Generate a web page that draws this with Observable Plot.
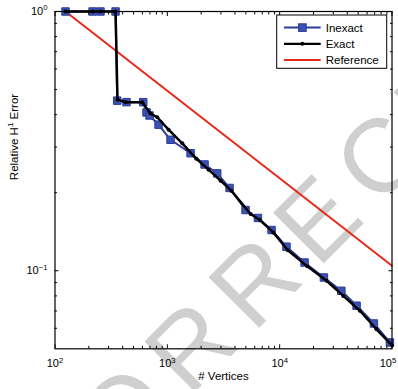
<!DOCTYPE html>
<html><head><meta charset="utf-8">
<script src="https://cdn.jsdelivr.net/npm/d3@7"></script>
<script src="https://cdn.jsdelivr.net/npm/@observablehq/plot@0.6"></script>
<style>html,body{margin:0;padding:0;background:#fff} svg{display:block}</style>
</head><body><div id="chart"></div>
<script>
// ---- data ----
const inexactN = [124, 216, 254, 346, 358, 433, 610, 653, 694, 835, 1068, 1610, 2145, 2780, 3580, 4970, 6400, 8470, 11500, 16660, 24760, 35400, 48400, 69000, 95800];
const inexactErr = [1, 1, 1, 1, 0.453, 0.447, 0.447, 0.408, 0.397, 0.366, 0.320, 0.284, 0.257, 0.2375, 0.2086, 0.1715, 0.1598, 0.1436, 0.1238, 0.1076, 0.0942, 0.0837, 0.0733, 0.0626, 0.0529];
const exactN = [124, 216, 254, 346, 360, 425, 598, 708, 813, 1025, 1358, 1808, 2327, 2977, 3710, 5510, 6670, 8770, 11830, 17620, 26180, 36830, 51760, 72450, 100000];
const exactErr = [1, 1, 1, 1, 0.457, 0.447, 0.447, 0.404, 0.391, 0.350, 0.310, 0.2706, 0.2454, 0.2226, 0.2037, 0.1655, 0.157, 0.1406, 0.120, 0.104, 0.0915, 0.080, 0.0701, 0.0596, 0.0515];
const refN = [124, 100000];
const refErr = [1, 0.1046];
const seriesNames = ["Inexact", "Exact", "Reference"];
const xMajor = [1e2, 1e3, 1e4, 1e5];
const xMinor = [200,300,400,500,600,700,800,900,2000,3000,4000,5000,6000,7000,8000,9000,20000,30000,40000,50000,60000,70000,80000,90000];
const yMajor = [0.1, 1];
const yMinor = [0.06,0.07,0.08,0.09,0.2,0.3,0.4,0.5,0.6,0.7,0.8,0.9];
const xLabel = "# Vertices";
const yLabel = "Relative H^1 Error";
const watermarkText = "CORRECTED";

// ---- style ----
const FONT = "'Liberation Sans', Arial, Helvetica, sans-serif";
const BLUE_FILL = "#3c52b4", BLUE_STROKE = "#2b3b9c", BLACK = "#000", RED = "#e8281c";
const W = 398, H = 389, ML = 54.5, MR = 6.5, MT = 11, MB = 40.7;

const inexact = inexactN.map((n, i) => ({n, e: inexactErr[i]}));
const exact = exactN.map((n, i) => ({n, e: exactErr[i]}));
const ref = refN.map((n, i) => ({n, e: refErr[i]}));

const fmtPow = d => "10^" + String(Math.round(Math.log10(d))).replace("-", "\u2212");

function watermark() {
  return d3.create("svg:text")
    .attr("transform", "translate(56,531) rotate(-45)")
    .attr("text-anchor", "start")
    .attr("font-family", FONT).attr("font-size", 104).attr("letter-spacing", 16)
    .attr("fill", "#cfcfcf").text(watermarkText).node();
}

function legend() {
  const g = d3.create("svg:g").attr("font-family", FONT).attr("font-size", 11.5).attr("text-anchor", "start");
  g.append("rect").attr("x", 276.7).attr("y", 15).attr("width", 110).attr("height", 53.3)
    .attr("fill", "#fff").attr("stroke", "#000").attr("stroke-width", 1);
  const colors = [BLUE_STROKE, BLACK, RED];
  seriesNames.forEach((name, i) => {
    const y = 27.6 + i * 16.2;
    g.append("line").attr("x1", 284).attr("x2", 320.7).attr("y1", y).attr("y2", y)
      .attr("stroke", colors[i]).attr("stroke-width", i === 1 ? 2.2 : 2);
    if (i === 0) g.append("rect").attr("x", 302.4 - 3.8).attr("y", y - 3.8).attr("width", 7.6).attr("height", 7.6)
      .attr("fill", BLUE_FILL).attr("stroke", BLUE_STROKE).attr("stroke-width", 1);
    if (i === 1) g.append("circle").attr("cx", 302.4).attr("cy", y).attr("r", 2).attr("fill", BLACK);
    g.append("text").attr("x", 325.7).attr("y", y).attr("dy", "0.36em").attr("fill", "#000").text(name);
  });
  return g.node();
}

const plot = Plot.plot({
  width: W, height: H,
  marginLeft: ML, marginRight: MR, marginTop: MT, marginBottom: MB,
  style: {fontFamily: FONT, fontSize: "11px", background: "#fff", color: "#000", overflow: "visible"},
  x: {type: "log", domain: [1e2, 1e5], axis: null},
  y: {type: "log", domain: [0.05, 1], axis: null},
  marks: [
    watermark,
    Plot.line(ref, {x: "n", y: "e", stroke: RED, strokeWidth: 2}),
    Plot.line(inexact, {x: "n", y: "e", stroke: BLUE_STROKE, strokeWidth: 2}),
    Plot.dot(inexact, {x: "n", y: "e", symbol: "square", r: 4.2, fill: BLUE_FILL, stroke: BLUE_STROKE, strokeWidth: 1}),
    Plot.line(exact, {x: "n", y: "e", stroke: BLACK, strokeWidth: 2.5}),
    Plot.dot(exact, {x: "n", y: "e", r: 2, fill: BLACK}),
    Plot.frame({stroke: "#000", strokeWidth: 1.2}),
    Plot.axisX({anchor: "bottom", ticks: xMajor, tickSize: -4, fill: "none", label: null}),
    Plot.axisX({anchor: "top", ticks: xMajor, tickSize: -4, fill: "none", label: null}),
    Plot.axisX({anchor: "bottom", ticks: xMinor, tickSize: -2.5, fill: "none", label: null}),
    Plot.axisX({anchor: "top", ticks: xMinor, tickSize: -2.5, fill: "none", label: null}),
    Plot.axisY({anchor: "left", ticks: yMajor, tickSize: -4, fill: "none", label: null}),
    Plot.axisY({anchor: "right", ticks: yMajor, tickSize: -4, fill: "none", label: null}),
    Plot.axisY({anchor: "left", ticks: yMinor, tickSize: -2.5, fill: "none", label: null}),
    Plot.axisY({anchor: "right", ticks: yMinor, tickSize: -2.5, fill: "none", label: null}),
    Plot.text(xMajor.slice(0, -1), {x: d => d, frameAnchor: "bottom", dy: 18.5, text: fmtPow, fontSize: 11, fill: "#000"}),
    Plot.text(xMajor.slice(-1), {x: d => d, frameAnchor: "bottom", dy: 18.5, dx: -4, text: fmtPow, fontSize: 11, fill: "#000"}),
    Plot.text(yMajor, {y: d => d, frameAnchor: "left", dx: -7.5, textAnchor: "end", text: fmtPow, fontSize: 11, fill: "#000"}),
    Plot.text([xLabel], {frameAnchor: "bottom", dy: 31, text: d => d, fontSize: 11.5, fill: "#000"}),
    Plot.text([yLabel], {frameAnchor: "left", dx: -41, rotate: -90, text: d => d, fontSize: 11.5, fill: "#000"}),
    legend
  ]
});

// superscripts
d3.select(plot).selectAll("text").each(function() {
  const s = this.textContent;
  const m = s.match(/^(.*?)\^(\S+)(.*)$/);
  if (!m) return;
  const t = d3.select(this);
  t.text(null);
  t.append("tspan").text(m[1]);
  t.append("tspan").attr("dy", "-0.62em").attr("font-size", "0.7em").text(m[2]);
  if (m[3]) t.append("tspan").attr("dy", "0.434em").text(m[3]);
});

document.getElementById("chart").appendChild(plot);
</script>
</body></html>
